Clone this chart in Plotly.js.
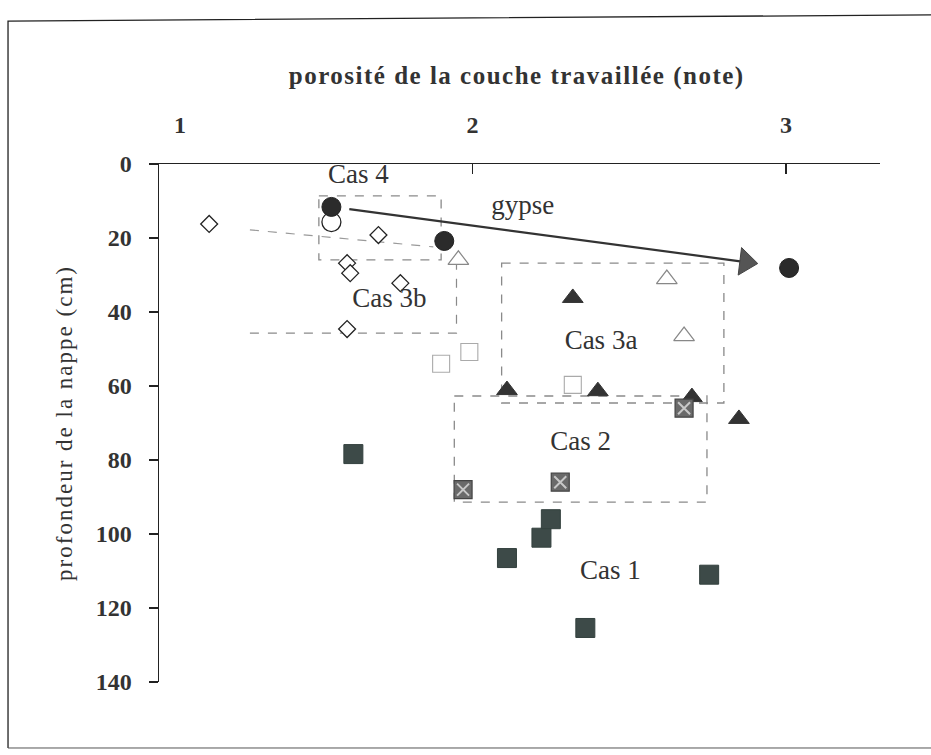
<!DOCTYPE html>
<html><head><meta charset="utf-8">
<script src="https://cdn.plot.ly/plotly-3.0.1.min.js"></script>
<style>
body{margin:0;background:#fff}
.gtitle{letter-spacing:1.5px}
.ytitle{letter-spacing:2px}
</style>
</head><body>
<div id="chart" style="width:931px;height:755px"></div>
<script>
// ---- data (porosité note, profondeur cm) ----
const diamondX = [1.16, 1.70, 1.60, 1.61, 1.77, 1.60];
const diamondY = [16.2, 19.2, 26.8, 29.5, 32.2, 44.6];
const openCircleX = [1.55];
const openCircleY = [15.7];
const filledCircleX = [1.55, 1.91, 3.01];
const filledCircleY = [11.6, 20.8, 28.1];
const openTriX = [1.955, 2.62, 2.675];
const openTriY = [25.9, 31.1, 46.5];
const filledTriX = [2.32, 2.11, 2.40, 2.70, 2.85];
const filledTriY = [36.2, 61.1, 61.4, 63.0, 68.9];
const openSqX = [1.99, 1.90, 2.32];
const openSqY = [50.8, 54.0, 59.7];
const hatchSqX = [1.97, 2.28, 2.675];
const hatchSqY = [88.0, 86.0, 66.0];
const filledSqX = [1.62, 2.11, 2.22, 2.25, 2.755, 2.36];
const filledSqY = [78.4, 106.5, 101.0, 96.0, 111.0, 125.4];
// gypse arrow
const arrowX = [1.607, 2.872];
const arrowY = [12.2, 26.5];
// group boxes [x0, x1, y0, y1]
const boxCas4 = [1.51, 1.90, 8.6, 25.9];
const boxCas3a = [2.093, 2.802, 26.8, 64.6];
const boxCas2 = [1.942, 2.748, 62.7, 91.4];
const cas3bLineX = [1.29, 1.875];
const cas3bLineY = [17.8, 22.4];
const cas3bX = [1.29, 1.949, 1.949];
const cas3bY = [45.7, 45.7, 26.5];
// labels
const labelText = ["Cas 4", "gypse", "Cas 3b", "Cas 3a", "Cas 2", "Cas 1"];
const labelX = [1.636, 2.16, 1.735, 2.41, 2.345, 2.44];
const labelY = [3.2, 11.6, 36.8, 48.1, 75.4, 110.3];
const xTicks = [1, 2, 3];
const xTickText = ["\u00a0\u00a0\u00a0\u00a0\u00a0\u00a0\u00a01", "2", "3"];
const yTicks = [0, 20, 40, 60, 80, 100, 120, 140];

const serif = "Liberation Serif, Times New Roman, serif";
const boxLine = {color: "#8a8a8a", width: 1.3, dash: "dash"};

function boxShape(b) {
  return {type: "rect", xref: "x", yref: "y", x0: b[0], x1: b[1], y0: b[2], y1: b[3], line: boxLine, layer: "below"};
}

const traces = [
  {x: cas3bLineX, y: cas3bLineY, mode: "lines", line: {color: "#9a9a9a", width: 1.2, dash: "dash"}, hoverinfo: "skip"},
  {x: cas3bX, y: cas3bY, mode: "lines", line: {color: "#8a8a8a", width: 1.2, dash: "dash"}, hoverinfo: "skip"},
  {x: arrowX, y: arrowY, mode: "lines", line: {color: "#333", width: 2.2}, hoverinfo: "skip"},
  {x: [arrowX[1]], y: [arrowY[1]], mode: "markers", marker: {symbol: "triangle-right", size: 24, angle: 7, color: "#555", line: {color: "#444", width: 1}}},
  {x: diamondX, y: diamondY, mode: "markers", marker: {symbol: "diamond", size: 13, color: "#fff", line: {color: "#222", width: 1.3}}},
  {x: openCircleX, y: openCircleY, mode: "markers", marker: {symbol: "circle", size: 19, color: "#fff", line: {color: "#222", width: 1.3}}},
  {x: filledCircleX, y: filledCircleY, mode: "markers", marker: {symbol: "circle", size: 19, color: "#2b2b2b", line: {color: "#222", width: 1}}},
  {x: openTriX, y: openTriY, mode: "markers", marker: {symbol: "triangle-up", size: 18, color: "#fff", line: {color: "#888", width: 1.2}}},
  {x: filledTriX, y: filledTriY, mode: "markers", marker: {symbol: "triangle-up", size: 18, color: "#333", line: {color: "#333", width: 1}}},
  {x: openSqX, y: openSqY, mode: "markers", marker: {symbol: "square", size: 17, color: "#fff", line: {color: "#aaa", width: 1.1}}},
  {x: hatchSqX, y: hatchSqY, mode: "markers", marker: {symbol: "square", size: 18, color: "#6a6a6a", line: {color: "#444", width: 1.2}}},
  {x: hatchSqX, y: hatchSqY, mode: "markers", marker: {symbol: "x-thin-open", size: 12, color: "#c8c8c8", line: {color: "#c8c8c8", width: 2}}, hoverinfo: "skip"},
  {x: filledSqX, y: filledSqY, mode: "markers", marker: {symbol: "square", size: 19, color: "#3d4a48", line: {color: "#33403e", width: 1}}},
  {x: labelX, y: labelY, mode: "text", text: labelText, textposition: "middle center", textfont: {family: serif, size: 27, color: "#333"}, hoverinfo: "skip"}
];

const layout = {
  width: 931, height: 755,
  margin: {l: 159, r: 51, t: 164, b: 73},
  paper_bgcolor: "#fff", plot_bgcolor: "#fff",
  showlegend: false,
  title: {text: "<b>porosité de la couche travaillée (note)</b>", font: {family: serif, size: 25, color: "#333"}, x: 0.555, xanchor: "center", y: 0.9, yanchor: "middle"},
  xaxis: {
    side: "top", range: [1, 3.30], tickvals: xTicks, ticktext: xTickText,
    showline: true, linecolor: "#222", linewidth: 1.5, zeroline: false, showgrid: false,
    ticks: "inside", ticklen: 10, tickcolor: "#222", tickwidth: 1.3,
    ticklabelstandoff: 20,
    tickfont: {family: serif, size: 24, color: "#333", weight: "bold"}
  },
  yaxis: {
    range: [140, 0], tickvals: yTicks, ticktext: yTicks.map(String),
    showline: true, linecolor: "#222", linewidth: 1.5, zeroline: false, showgrid: false,
    ticks: "outside", ticklen: 9, tickcolor: "#222", tickwidth: 1.3,
    ticklabelstandoff: 12,
    tickfont: {family: serif, size: 24, color: "#333", weight: "bold"},
    title: {text: "profondeur de la nappe (cm)", font: {family: serif, size: 23, color: "#333"}, standoff: 16}
  },
  shapes: [
    boxShape(boxCas4), boxShape(boxCas3a), boxShape(boxCas2),
    {type: "path", xref: "paper", yref: "paper", path: "M -0.2094,-0.1274 L -0.2094,1.276 L 1.09,1.288", line: {color: "#222", width: 1.3}},
    {type: "line", xref: "paper", yref: "paper", x0: -0.2094, x1: 1.09, y0: -0.1274, y1: -0.1274, line: {color: "#555", width: 1}}
  ]
};

Plotly.newPlot("chart", traces, layout, {displayModeBar: false, staticPlot: true});
</script>
</body></html>
